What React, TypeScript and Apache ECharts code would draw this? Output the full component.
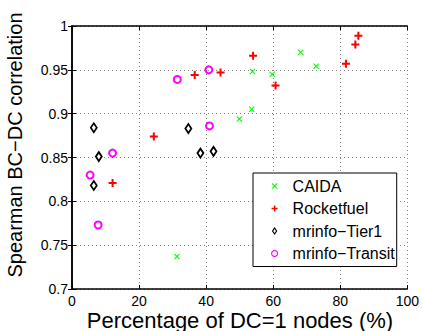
import React, { useEffect, useRef } from "react";
import * as echarts from "echarts";

const xTicks = [0, 20, 40, 60, 80, 100];
const yRange = [0.7, 1];
const seriesNames = ["CAIDA", "Rocketfuel", "mrinfo\u2212Tier1", "mrinfo\u2212Transit"];

const caidaX = [31.3, 49.9, 53.6, 53.8, 59.7, 68.2, 72.8];
const caidaY = [0.737, 0.894, 0.905, 0.948, 0.945, 0.97, 0.954];
const rocketX = [12.1, 24.4, 36.6, 44.3, 54.0, 60.7, 81.7, 84.5, 85.4];
const rocketY = [0.821, 0.874, 0.944, 0.947, 0.966, 0.932, 0.957, 0.979, 0.989];
const tier1X = [6.5, 8.0, 6.5, 34.7, 38.3, 42.2];
const tier1Y = [0.884, 0.851, 0.818, 0.883, 0.855, 0.857];
const transitX = [5.4, 7.8, 12.1, 31.4, 40.8, 41.0];
const transitY = [0.83, 0.773, 0.855, 0.939, 0.95, 0.886];

const FONT = "'Liberation Sans', Arial, Helvetica, sans-serif";
const PLUS = "path://M-1,-4H1V-1H4V1H1V4H-1V1H-4V-1H-1Z";
const CROSS = "path://M-3,-4L0,-1L3,-4L4,-3L1,0L4,3L3,4L0,1L-3,4L-4,3L-1,0L-4,-3Z";
const DIAMOND = "path://M0,-4.5L3,0L0,4.5L-3,0Z";

const zip = (xs: number[], ys: number[]) => xs.map((x, i) => [x, ys[i]]);

export default function App() {
  const ref = useRef<HTMLDivElement>(null);
  useEffect(() => {
    if (!ref.current) return;
    const chart = echarts.init(ref.current, null, { renderer: "svg" });
    const gridLine = { show: true, lineStyle: { color: "#808080", type: [1, 3] as any, width: 1 } };
    const axisLine = { show: true, lineStyle: { color: "#000", width: 1.5 } };
    const tick = { show: true, inside: true, length: 4, lineStyle: { color: "#000", width: 1 } };
    chart.setOption({
      animation: false,
      backgroundColor: "#fff",
      textStyle: { fontFamily: FONT },
      grid: { left: 72, top: 26, right: 13, bottom: 42 },
      xAxis: [
        {
          type: "value", min: xTicks[0], max: xTicks[xTicks.length - 1], interval: 20,
          axisLine, axisTick: tick, splitLine: gridLine,
          axisLabel: { color: "#000", fontSize: 14, margin: 5, fontFamily: FONT },
        },
        {
          type: "value", position: "top", min: xTicks[0], max: xTicks[xTicks.length - 1], interval: 20,
          axisLine, axisTick: tick, splitLine: { show: false }, axisLabel: { show: false },
        },
      ],
      yAxis: [
        {
          type: "value", min: yRange[0], max: yRange[1], interval: 0.05,
          axisLine, axisTick: tick, splitLine: gridLine,
          axisLabel: { color: "#000", fontSize: 14, margin: 4, fontFamily: FONT },
        },
        {
          type: "value", position: "right", min: yRange[0], max: yRange[1], interval: 0.05,
          axisLine, axisTick: tick, splitLine: { show: false }, axisLabel: { show: false },
        },
      ],
      legend: {
        orient: "vertical", left: 253, top: 173,
        padding: [5, 2, 5, 18], itemGap: 6.5, itemWidth: 6, itemHeight: 6,
        borderColor: "#000", borderWidth: 1, backgroundColor: "#fff",
        textStyle: { fontSize: 16, color: "#000", fontFamily: FONT, padding: [0, 0, 0, 10] },
        itemStyle: { borderWidth: 1.2 },
        data: [
          { name: seriesNames[0], icon: CROSS },
          { name: seriesNames[1], icon: PLUS },
          { name: seriesNames[2], icon: DIAMOND },
          { name: seriesNames[3], icon: "circle" },
        ],
      },
      graphic: [
        {
          type: "text", x: 15, y: 145, rotation: Math.PI / 2,
          style: { text: "Spearman BC\u2212DC correlation", fontSize: 20, fontFamily: FONT, fill: "#000", align: "center", verticalAlign: "middle" },
        },
        {
          type: "text", x: 240, y: 320,
          style: { text: "Percentage of DC=1 nodes (%)", fontSize: 22, fontFamily: FONT, fill: "#000", align: "center", verticalAlign: "middle" },
        },
      ],
      series: [
        {
          name: seriesNames[0], type: "scatter", data: zip(caidaX, caidaY),
          symbol: CROSS, symbolSize: 6, itemStyle: { color: "#00ff00", opacity: 1 },
        },
        {
          name: seriesNames[1], type: "scatter", data: zip(rocketX, rocketY),
          symbol: PLUS, symbolSize: 8, itemStyle: { color: "#ff0000", opacity: 1 },
        },
        {
          name: seriesNames[2], type: "scatter", data: zip(tier1X, tier1Y),
          symbol: DIAMOND, symbolSize: [6, 9], symbolKeepAspect: false,
          itemStyle: { color: "transparent", borderColor: "#000", borderWidth: 1.8, opacity: 1 },
        },
        {
          name: seriesNames[3], type: "scatter", data: zip(transitX, transitY),
          symbol: "circle", symbolSize: 7,
          itemStyle: { color: "transparent", borderColor: "#ff00ff", borderWidth: 2, opacity: 1 },
        },
      ],
    });
    return () => chart.dispose();
  }, []);
  return <div ref={ref} style={{ position: "fixed", left: 0, top: 0, width: 422, height: 331 }} />;
}
